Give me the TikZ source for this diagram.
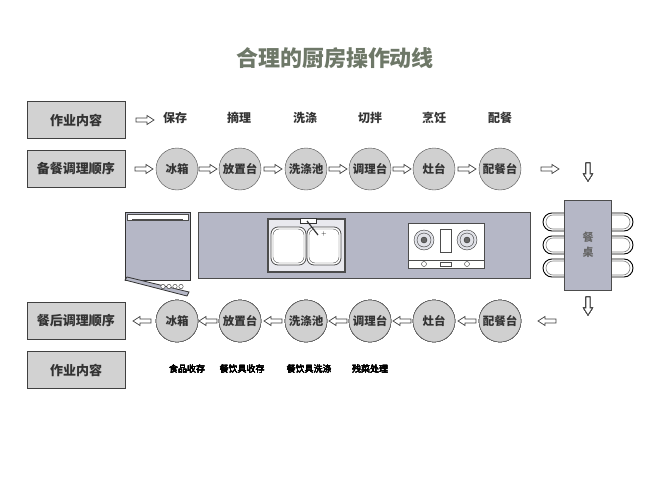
\documentclass[tikz,border=0pt]{standalone}
\usepackage{fontspec}
\newfontfamily\cjk{Noto Sans CJK SC}
\definecolor{cir}{HTML}{D0D0D0}
\definecolor{bx}{HTML}{D2D2D2}
\definecolor{ctr}{HTML}{B5B7C6}
\definecolor{ttl}{HTML}{6E7868}
\newcommand{\harrow}[3]{\begin{scope}[shift={(#1,#2)},rotate=#3]
 \draw[black!75,fill=white,line width=0.7pt] (-9,-2) -- (2,-2) -- (2,-4.5) -- (9,0) -- (2,4.5) -- (2,2) -- (-9,2) -- cycle;\end{scope}}
\begin{document}
\begin{tikzpicture}[x=1pt,y=-1pt,font=\cjk,
 lbox/.style={draw=black!75,line width=0.8pt,fill=bx,minimum width=98pt,minimum height=37pt,font=\cjk\bfseries\fontsize{13}{13}\selectfont,text=black!80},
 stn/.style={circle,draw=black!70,fill=cir,minimum size=42pt,inner sep=0pt,font=\cjk\bfseries\fontsize{11.5}{11.5}\selectfont,text=black!80},
 lab/.style={font=\cjk\bfseries\fontsize{12}{12}\selectfont,text=black!80},
 slab/.style={font=\cjk\fontsize{9}{9}\selectfont,text=black}]
\path[use as bounding box] (0,0) rectangle (657,490);
\node[font=\cjk\bfseries\fontsize{22}{22}\selectfont,text=ttl] (title) at (335,58) {合理的厨房操作动线};
\node[lbox] (b1) at (76,120) {作业内容};
\node[lbox] (b2) at (76,169) {备餐调理顺序};
\node[lbox] (b3) at (76,321) {餐后调理顺序};
\node[lbox] (b4) at (76,370) {作业内容};
\foreach \x/\t [count=\i] in {175/保存,239/摘理,305/洗涤,370/切拌,434/烹饪,500/配餐}
  \node[lab] (t\i) at (\x,118) {\t};
\harrow{145}{120}{0}
\foreach \x/\t [count=\i] in {177/冰箱,240/放置台,306/洗涤池,370/调理台,434/灶台,500/配餐台}
  \node[stn] (s\i) at (\x,169) {\t};
\foreach \x in {144,208,273,338,402,467,550}
  \harrow{\x}{169}{0}
\harrow{588}{172}{-90}
\foreach \x/\t [count=\i] in {177/冰箱,240/放置台,306/洗涤池,370/调理台,434/灶台,500/配餐台}
  \node[stn] (r\i) at (\x,321) {\t};
\foreach \x in {142,208,273,338,402,467,547}
  \harrow{\x}{321}{180}
\harrow{588}{306}{-90}
\foreach \x/\t [count=\i] in {187/食品收存,242/餐饮具收存,309/餐饮具洗涤,370/残菜处理}
  \node[slab] (u\i) at (\x,369) {\t};
% fridge
\draw[black!80,fill=ctr,line width=0.8pt] (125,212) rectangle (190,280);
\draw[black!70,fill=white] (127,214) rectangle (188,220);
\draw[black!70] (132,219) -- (183,219);
\draw[black!80,fill=ctr,line width=0.8pt] (125,280) -- (187,296) -- (189,292) -- (127,277) -- cycle;
\foreach \x in {163,169,175,181} \draw[black!80,fill=white] (\x,286.5) circle (2.2);
% counter
\draw[black!70,fill=ctr,line width=0.8pt] (198,212) rectangle (530,278);
% sink
\draw[black!70,fill=white] (267,218) rectangle (345,272);
\draw[black!70,fill=ctr!30] (268,219) rectangle (344,271);
\draw[black!70,fill=white,line width=0.8pt,rounded corners=7] (271,227) rectangle (306,265);
\draw[black!70,fill=white,line width=0.8pt,rounded corners=7] (307,227) rectangle (341,265);
\draw[black!70,rounded corners=6] (273,229) rectangle (304,263);
\draw[black!70,rounded corners=6] (309,229) rectangle (339,263);
\draw[black!80,fill=white] (300,218) rectangle (316,223);
\draw[black!80,line width=1.2pt] (307,221) -- (318,235);
\node[font=\fontsize{6}{6}\selectfont] at (324,234) {+};
% stove
\draw[black!70,fill=white] (408,223) rectangle (484,268);
\draw[black!70] (408,260) -- (484,260);
\foreach \x in {424,467}{
  \draw[black!80,fill=ctr!40] (\x,240) circle (10);
  \draw[black!80] (\x,240) circle (7);
  \draw[black!80,fill=black!60] (\x,240) circle (3);
  \draw[black!80,fill=white] (\x,264) circle (2.5);
}
\draw[black!70,fill=white] (440,229) rectangle (451,252);
\draw[black!70,fill=white] (440,262) rectangle (451,266);
% chairs
\foreach \y in {222,245,268}{
  \draw[black,line width=0.9pt] (566,\y-9) -- (552,\y-9) arc (270:90:9) -- (566,\y+9);
  \draw[black!50,line width=0.6pt] (566,\y-7) -- (553,\y-7) arc (270:90:7) -- (566,\y+7);
  \draw[black,line width=0.9pt] (610,\y-9) -- (624,\y-9) arc (-90:90:9) -- (610,\y+9);
  \draw[black!50,line width=0.6pt] (610,\y-7) -- (623,\y-7) arc (-90:90:7) -- (610,\y+7);
}
\node[draw=black!70,fill=ctr,minimum width=47pt,minimum height=90pt,inner sep=0pt,font=\cjk\bfseries\fontsize{11}{15}\selectfont,text=black!60,align=center] (table) at (588,245) {餐\\桌};
\end{tikzpicture}
\end{document}
